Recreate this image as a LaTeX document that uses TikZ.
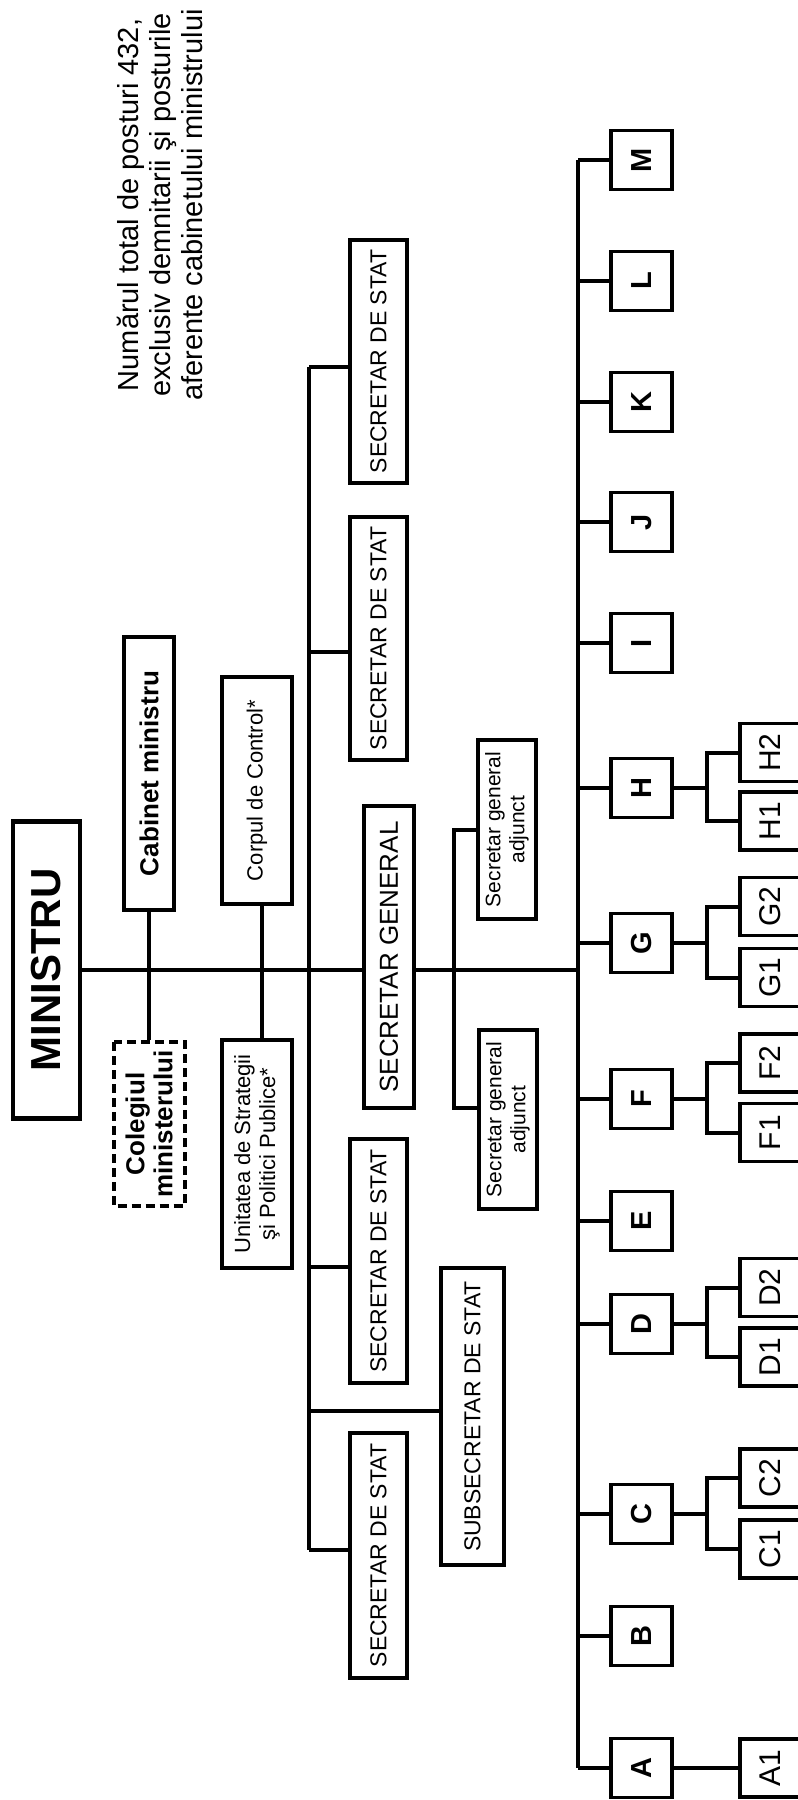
\documentclass[tikz,border=0pt]{standalone}
\usepackage{fontspec}
\setmainfont{Liberation Sans}
\usetikzlibrary{calc}
\begin{document}
\begin{tikzpicture}[x=1pt,y=-1pt,
  ln/.style={line width=4pt},
  lnthin/.style={line width=3.3pt},
  bx/.style={draw, line width=3.3pt, fill=white, rotate=90, inner sep=0pt, align=center},
  thickbox/.style={line width=4.3pt},
  dashbox/.style={line width=4pt, dash pattern=on 9pt off 5pt},
  sz/.style 2 args={minimum width=#1pt, minimum height=#2pt},
  fa/.style={font=\fontsize{23}{26}\selectfont},
  fb/.style={font=\fontsize{22}{25}\selectfont},
  fc/.style={font=\fontsize{21}{24}\selectfont},
  lbox/.style={bx, sz={59}{61}, font=\bfseries\fontsize{29}{32}\selectfont},
  sbox/.style={bx, sz={58}{61}, font=\fontsize{30}{32}\selectfont},
  sds/.style={bx, fa, minimum height=57pt}
]
\useasboundingbox (0,0) rectangle (798,1800);
\clip (0,0) rectangle (798,1800);

% note
\node[rotate=90, align=center, inner sep=0pt, font=\fontsize{29}{32}\selectfont] (note) at (160,205)
  {Numărul total de posturi 432,\\exclusiv demnitarii şi posturile\\aferente cabinetului ministrului};

% coordinates for buses
\coordinate (bt) at (578,160);
\coordinate (bb) at (578,1768);
\coordinate (bm) at (578,970);
\coordinate (sgj) at (454,970);
\coordinate (lt) at (309,367);
\coordinate (l2) at (309,652);
\coordinate (l3) at (309,1267);
\coordinate (l4) at (309,1411);
\coordinate (lb) at (309,1550);

% lines drawn first
\draw[ln] (bt) -- (bb);
\draw[ln] (lt) -- (lb);

% nodes
\node[bx, thickbox, sz={297}{67}, font=\bfseries\fontsize{42}{46}\selectfont] (min) at (46.5,970) {MINISTRU};
\node[bx, sz={273}{50}, font=\bfseries\fontsize{26}{29}\selectfont] (cab) at (149,773.5) {Cabinet ministru};
\node[bx, dashbox, sz={164}{71}, font=\bfseries\fontsize{26}{28}\selectfont] (col) at (149,1124) {Colegiul\\ministerului};
\node[bx, sz={227}{70}, fb] (corp) at (257,790.5) {Corpul de Control*};
\node[bx, sz={228}{70}, fb] (usp) at (257,1154) {Unitatea de Strategii\\şi Politici Publice*};
\node[bx, thickbox, sz={302}{50}, font=\fontsize{26}{29}\selectfont] (sg) at (389,957) {SECRETAR GENERAL};
\node[bx, sz={179}{58}, fc] (sga1) at (507,829.5) {Secretar general\\adjunct};
\node[bx, sz={179}{58}, fc] (sga2) at (508,1119.5) {Secretar general\\adjunct};
\node[sds, minimum width=243pt] (s1) at (378.5,361.5) {SECRETAR DE STAT};
\node[sds, minimum width=243pt] (s2) at (378.5,638.5) {SECRETAR DE STAT};
\node[sds, minimum width=244pt] (s3) at (378.5,1261) {SECRETAR DE STAT};
\node[sds, minimum width=245pt] (s4) at (378.5,1555.5) {SECRETAR DE STAT};
\node[bx, fa, sz={297}{63}] (sub) at (472.5,1416.5) {SUBSECRETAR DE STAT};

\foreach \n/\y in {M/160,L/281,K/402,J/522,I/643,H/788,G/943,F/1099,E/1221,D/1324,C/1514,B/1636,A/1768}
  \node[lbox] (\n) at (641.5,\y) {\n};
\foreach \n/\y in {H2/752.5,H1/821,G2/906.5,G1/977.5,F2/1063,F1/1132.5,D2/1287.5,D1/1357,C2/1478,C1/1549,A1/1768}
  \node[sbox] (\n) at (770.5,\y) {\n};

% main line
\draw[ln] (min.south) -- (min.south -| sg.north);
\draw[ln] (min.south -| sg.south) -- (bm);
% cabinet / colegiu, corp / unitate
\draw[lnthin] (cab.west) -- (col.east);
\draw[lnthin] ($(corp.west)+(5,0)$) -- ($(usp.east)+(5,0)$);
% adjuncts
\draw[ln] (sga1.north) -| (sgj) |- ($(sga2.north)+(0,-11.5)$);
% secretaries of state
\draw[ln] (lt) -- (lt -| s1.north);
\draw[ln] (l2) -- (l2 -| s2.north);
\draw[ln] (l3) -- (l3 -| s3.north);
\draw[ln] (l4) -- (l4 -| sub.north);
\draw[ln] (lb) -- (lb -| s4.north);
% letters
\foreach \n in {A,B,C,D,E,F,G,H,I,J,K,L,M}
  \draw[ln] (\n.north) -- (\n.north -| bt);
% sub-units
\foreach \p in {H,G,F,D,C}{
  \draw[ln] (\p.south) -- ++(33,0) coordinate (\p f);
  \draw[ln] (\p2.north) -| (\p f) |- (\p1.north);
}
\draw[ln] (A.south) -- (A1.north);
\end{tikzpicture}
\end{document}
